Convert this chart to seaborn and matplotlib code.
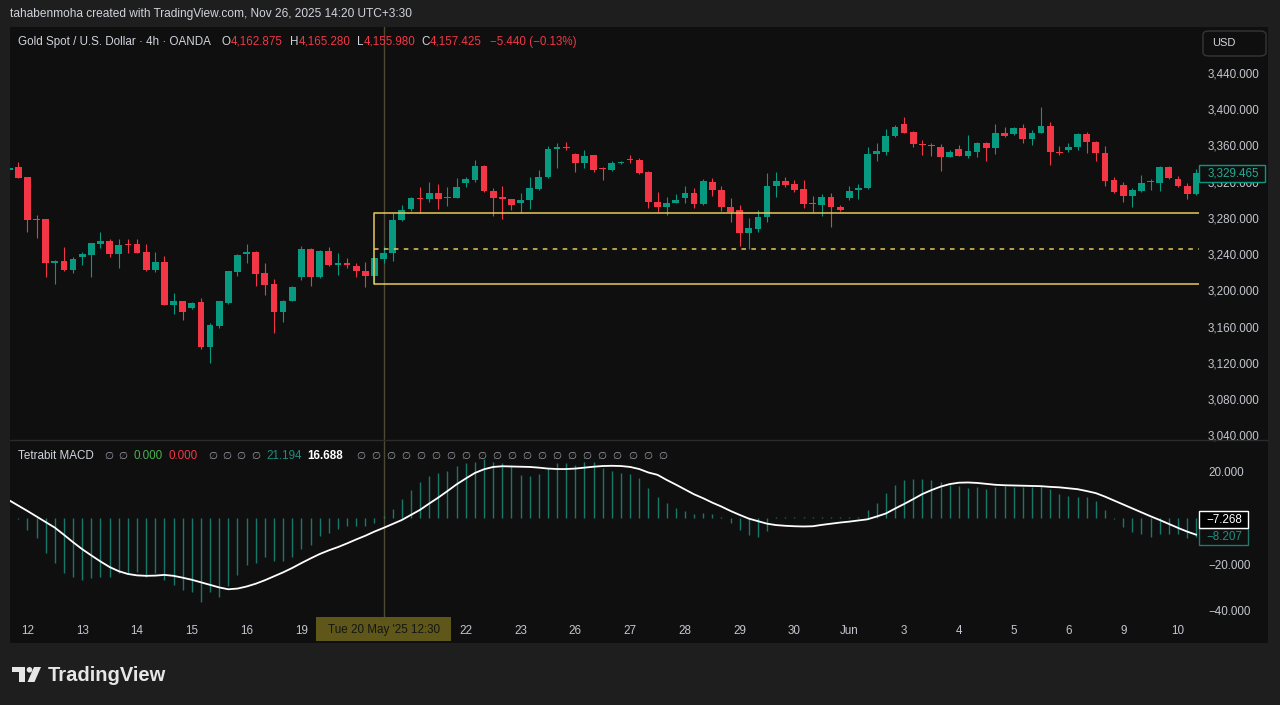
import matplotlib
matplotlib.use('Agg')
import matplotlib.pyplot as plt
import matplotlib.transforms as mtransforms
from matplotlib.patches import Rectangle, FancyBboxPatch, Polygon, Ellipse
import numpy as np
import pandas as pd
import seaborn as sns

# XAU/USD 4h candles, 12 May - 10 Jun 2025
opens = [3333, 3336, 3325, 3279, 3279, 3230.6, 3232.5, 3222.6, 3236.6, 3238.8,
         3251.3, 3254.9, 3240.2, 3251.3, 3251.3, 3242.8, 3222.6, 3231.4, 3184, 3188,
         3180.3, 3186.9, 3137.3, 3160.8, 3186.5, 3220.7, 3240.6, 3242.4, 3218.9, 3207.1,
         3175.9, 3188.4, 3214.5, 3245.8, 3214.5, 3243.9, 3228.4, 3230.6, 3227, 3221.5,
         3216, 3234.7, 3241.7, 3277.8, 3290.2, 3302, 3300.6, 3307.2, 3301.7, 3302,
         3318.3, 3321.9, 3337.7, 3309.8, 3302.8, 3300.6, 3296.2, 3299.8, 3312.3, 3324.9,
         3355.8, 3358.7, 3350.6, 3340.4, 3349.5, 3334.8, 3333, 3340.7, 3345.4, 3344,
         3330.4, 3297.3, 3292.4, 3296.9, 3302.4, 3307.2, 3295.1, 3320, 3310.9, 3292.4,
         3288.8, 3263.7, 3267.5, 3280.8, 3315.6, 3321.1, 3317, 3311.7, 3296, 3294,
         3302.8, 3292.4, 3301.7, 3310.5, 3312.8, 3350.6, 3353.2, 3370.5, 3383.4, 3374.6,
         3362, 3360.9, 3358.7, 3347.6, 3355.8, 3348.7, 3353.2, 3362.4, 3357.6, 3374.1,
         3372.7, 3379, 3366.8, 3374.1, 3381.9, 3353.2, 3355, 3358.7, 3372.4, 3364.2,
         3352.1, 3321.9, 3316.4, 3304.2, 3310.1, 3319.4, 3318.9, 3336.6, 3323, 3315.3,
         3306.1]
highs = [3337, 3341.5, 3325, 3283, 3279, 3233.6, 3247.6, 3237.3, 3242, 3252.7,
         3264.9, 3256.5, 3256.5, 3256.5, 3256.5, 3251, 3242.8, 3238, 3196.8, 3188.4,
         3187.2, 3191.3, 3164.4, 3188.4, 3222, 3239.7, 3251.3, 3243.5, 3230, 3212.3,
         3188.9, 3205.3, 3249.1, 3246.9, 3244.6, 3247.6, 3241, 3235.5, 3230, 3231.7,
         3236.9, 3249.1, 3285.2, 3294.3, 3303.2, 3313.9, 3320, 3317.2, 3313.9, 3323.8,
         3325.6, 3344, 3338.5, 3313.1, 3315.3, 3300.9, 3307.9, 3324.9, 3333, 3359.4,
         3363.1, 3364.2, 3351.2, 3355, 3350, 3336.3, 3342.9, 3342.9, 3349.2, 3346.5,
         3331.3, 3309, 3303.5, 3306.5, 3315.3, 3312.8, 3322.7, 3324.5, 3315.6, 3301.7,
         3294.3, 3279.6, 3288.8, 3330, 3330.4, 3324.9, 3321.9, 3321.9, 3304.2, 3306.1,
         3307.2, 3294.3, 3315.3, 3317.5, 3358, 3362.4, 3377.9, 3382.3, 3391.1, 3376.3,
         3366.1, 3362.4, 3361.7, 3355, 3360.5, 3371.6, 3363.5, 3364.2, 3383.7, 3380.8,
         3380.1, 3383.4, 3377.1, 3402.2, 3386.3, 3359.4, 3362.4, 3373.5, 3374.6, 3365,
         3359.8, 3325.6, 3320, 3312.8, 3327.4, 3322.7, 3337.7, 3337.7, 3326.3, 3319,
         3333.7]
lows = [3331, 3324, 3265, 3257.5, 3215, 3207, 3222, 3219.6, 3228, 3215.2,
        3246.5, 3236.6, 3225.1, 3241.7, 3241, 3222, 3220.7, 3183.4, 3174, 3167.4,
        3179.5, 3135, 3120.3, 3158.6, 3184.7, 3216, 3230.6, 3205.3, 3195, 3153.4,
        3165.5, 3187.8, 3211.5, 3205.3, 3213.7, 3227, 3217.1, 3224.4, 3214.5, 3204.1,
        3207.9, 3230, 3232.5, 3276.7, 3287.7, 3285.2, 3298, 3289.9, 3293.5, 3301.5,
        3314.5, 3320, 3309.2, 3282.5, 3278.5, 3288.8, 3285.8, 3289.9, 3311.4, 3324.1,
        3335.5, 3355, 3331, 3334.8, 3330.2, 3321.9, 3331.9, 3340.1, 3341, 3328.5,
        3291.3, 3286.9, 3283.3, 3296.2, 3296.9, 3291.3, 3294.3, 3304.2, 3288, 3275.9,
        3249.1, 3245.4, 3264.9, 3275.9, 3303.5, 3314.5, 3309, 3290.7, 3286.9, 3282.5,
        3270.4, 3287.7, 3299.8, 3300.6, 3312, 3343.2, 3349.5, 3369.7, 3373.5, 3358,
        3349.5, 3348.4, 3332.2, 3347, 3348.4, 3345.9, 3347.6, 3342.9, 3350.3, 3369.7,
        3371.6, 3363.1, 3360.5, 3373.8, 3338.5, 3349.5, 3353.2, 3355, 3351.4, 3342.9,
        3315.6, 3307.2, 3298, 3292.4, 3309, 3310.9, 3310.1, 3323, 3313.9, 3300.9,
        3305.3]
closes = [3335, 3324.5, 3278, 3277.5, 3230, 3232.5, 3222.6, 3234.4, 3239.9, 3252,
          3254.9, 3240.2, 3249.8, 3249.8, 3241.4, 3222.6, 3231.4, 3184, 3188, 3176.5,
          3186.5, 3137.3, 3161.9, 3188, 3221.5, 3239.1, 3242.4, 3218.2, 3206, 3175.9,
          3188.4, 3203.8, 3245.8, 3214.5, 3243.9, 3228.1, 3230.6, 3228.4, 3221.8, 3216,
          3235.5, 3241.7, 3277.8, 3288.5, 3302.4, 3300.6, 3307.2, 3300.9, 3302.8, 3313.9,
          3322.7, 3337.7, 3309.8, 3302.4, 3300.6, 3294, 3299.8, 3313.1, 3325.6, 3355.8,
          3358, 3357.2, 3341, 3348.4, 3333, 3333.7, 3341, 3342.1, 3344, 3329.3,
          3297.3, 3292.4, 3296.9, 3299.8, 3307.9, 3295.1, 3321.1, 3310.9, 3292.4, 3286.9,
          3263.1, 3268.6, 3281.4, 3315.6, 3321.1, 3316.4, 3310.9, 3295.1, 3294.9, 3302.8,
          3292, 3288.5, 3310.1, 3312.8, 3350.6, 3354.3, 3370.5, 3380.8, 3374.1, 3361.3,
          3360.5, 3359.4, 3347.6, 3353.2, 3348.7, 3353.9, 3362.4, 3357.6, 3374.1, 3370.8,
          3379, 3366.8, 3374.1, 3381.9, 3353.2, 3351.4, 3358.7, 3372.7, 3364.2, 3351.4,
          3321.1, 3308.3, 3304.6, 3310.9, 3318.3, 3320.8, 3336.6, 3323.8, 3315.3, 3306.1,
          3329.465]

# Tetrabit MACD pane
macd_line = [7.6, 5.3, 3.0, 0.6, -1.8, -4.2, -7.3, -10.5, -13.5, -16.2,
             -18.8, -21.2, -23.0, -24.2, -24.8, -25.0, -24.9, -24.6, -25.0, -25.8,
             -26.7, -27.8, -28.9, -30.0, -30.8, -30.5, -29.6, -28.4, -26.9, -25.2,
             -23.5, -21.6, -19.5, -17.5, -15.6, -14.0, -12.6, -11.0, -9.3, -7.7,
             -5.9, -4.3, -2.6, -0.9, 1.3, 3.5, 6.2, 8.8, 11.6, 14.5,
             17.0, 19.4, 21.0, 22.0, 22.3, 22.2, 22.1, 22.0, 21.7, 21.3,
             21.1, 21.1, 21.3, 21.7, 22.1, 22.4, 22.5, 22.4, 22.0, 21.1,
             19.6, 18.6, 16.4, 14.4, 12.3, 10.2, 8.5, 6.6, 4.9, 3.0,
             1.3, -0.3, -1.4, -2.5, -3.1, -3.4, -3.6, -3.7, -3.6, -3.0,
             -2.5, -2.0, -1.6, -1.1, -0.6, 0.6, 1.9, 4.0, 6.0, 8.1,
             10.3, 12.0, 13.5, 14.6, 15.2, 15.3, 15.1, 14.7, 14.3, 14.1,
             14.0, 13.9, 13.8, 13.7, 13.4, 13.2, 12.8, 12.4, 11.6, 10.7,
             9.2, 7.5, 5.8, 4.1, 2.4, 0.7, -0.9, -2.6, -4.3, -5.9,
             -7.268]
macd_hist = [0.0, -0.6, -5.2, -8.5, -15.0, -19.6, -23.6, -25.6, -26.8, -26.0,
             -25.3, -25.6, -23.9, -23.6, -23.2, -25.3, -23.9, -26.8, -28.9, -31.1,
             -31.8, -36.1, -31.8, -34.2, -29.6, -24.6, -20.3, -19.6, -16.7, -18.4,
             -18.8, -16.7, -13.5, -11.7, -7.8, -6.3, -4.9, -3.7, -3.5, -3.5,
             -2.3, 1.0, 3.9, 8.1, 12.1, 15.3, 18.1, 19.6, 20.3, 22.2,
             23.6, 24.3, 25.5, 24.3, 23.6, 22.9, 18.6, 18.1, 19.0, 21.4,
             23.6, 23.6, 22.9, 24.3, 24.3, 21.4, 20.4, 19.6, 19.0, 17.1,
             12.8, 9.2, 6.3, 4.2, 3.2, 1.7, 2.0, 1.7, 0.3, -2.3,
             -5.2, -7.3, -8.1, -5.6, 0.6, 0.3, 0.3, 0.3, 0.6, 0.3,
             0.3, 0.3, 0.6, 0.6, 3.5, 6.6, 10.6, 14.2, 16.4, 16.8,
             16.8, 16.4, 15.3, 14.2, 13.8, 13.1, 13.2, 12.4, 13.5, 13.8,
             13.5, 13.5, 13.5, 13.8, 12.4, 10.4, 9.5, 9.2, 8.9, 7.1,
             3.5, -0.6, -4.0, -5.9, -6.9, -8.1, -6.9, -6.9, -6.9, -8.8,
             -8.207]

day_labels = ['12', '13', '14', '15', '16', '19', '20', '21', '22', '23', '26',
              '27', '28', '29', '30', 'Jun', '3', '4', '5', '6', '9', '10']
bars_per_day = 6
first_day_bar = 2

price_ticks = list(range(3040, 3441, 40))
macd_ticks = [20, -20, -40]

# drawn zone (rectangle + mid line) and crosshair
zone_left = 39.95
zone_top = 3285.5
zone_bottom = 3207.0
crosshair_bar = 41
crosshair_label = "Tue 20 May '25 12:30"

sns.set_theme(style='dark')
plt.rcParams['font.family'] = ['Liberation Sans', 'DejaVu Sans']

W, H = 1280, 705
BG = '#0f0f0f'
FRAME = '#1e1e1e'
UP = '#089981'
DOWN = '#f23645'
TXT = '#d1d4dc'
AXTXT = '#c3c6ce'
ZONE = '#e8c95a'


def fx(px):
    return px / W


def fy(py):
    return 1 - py / H


df = pd.DataFrame({'open': opens, 'high': highs, 'low': lows, 'close': closes})
df['bar'] = np.arange(len(df))
df['color'] = np.where(df['close'] >= df['open'], UP, DOWN)
body = (df['close'] - df['open']).abs().clip(lower=1.0)
mid = (df['close'] + df['open']) / 2

ind = pd.DataFrame({'bar': np.arange(len(macd_line)), 'macd': macd_line, 'hist': macd_hist})

fig = plt.figure(figsize=(W / 100, H / 100), dpi=100, facecolor=FRAME)
fig.patches.append(Rectangle((fx(10), fy(643)), fx(1268) - fx(10), (643 - 27) / H,
                             transform=fig.transFigure, fc=BG, ec='none', zorder=-3))

ax = fig.add_axes([fx(10), fy(440), fx(1199) - fx(10), (440 - 27) / H])
axm = fig.add_axes([fx(10), fy(618), fx(1199) - fx(10), (618 - 441) / H])

for a in (ax, axm):
    a.set_facecolor(BG)
    a.grid(False)
    for s in a.spines.values():
        s.set_visible(False)
    a.set_xlim(0.09, 130.3)

# candles
ax.vlines(df['bar'], df['low'], df['high'], colors=df['color'], lw=0.8, zorder=3)
ax.bar(df['bar'], body, bottom=mid - body / 2, width=0.74, color=df['color'], lw=0, zorder=4)

# zone drawing
ax.plot([zone_left, zone_left], [zone_bottom, zone_top], color=ZONE, lw=1.1, zorder=5)
ax.hlines([zone_top, zone_bottom], zone_left, 140, color=ZONE, lw=1.1, zorder=5)
ax.hlines((zone_top + zone_bottom) / 2, zone_left, 140, color=ZONE, lw=1.1,
          linestyles=(0, (3, 3.5)), zorder=5)

ax.set_ylim(3034.9, 3490.8)
ax.yaxis.tick_right()
ax.set_yticks(price_ticks)
ax.set_yticklabels([f'{v:,.3f}' for v in price_ticks])
ax.tick_params(axis='y', length=0, pad=6.5, labelcolor=AXTXT, labelsize=8.4)
ax.tick_params(axis='x', length=0, labelbottom=False)

# MACD pane
axm.vlines(ind['bar'], 0, ind['hist'], colors='#178b7c', lw=1.0, alpha=0.85, zorder=2)
sns.lineplot(data=ind, x='bar', y='macd', ax=axm, color='white', lw=1.3, zorder=3)
axm.set_ylim(-43.2, 33.2)
axm.set_xlabel('')
axm.set_ylabel('')
axm.yaxis.tick_right()
axm.set_yticks(macd_ticks)
axm.set_yticklabels([f'{v:.3f}'.replace('-', '\u2212') for v in macd_ticks])
axm.tick_params(axis='y', length=0, pad=6.5, labelcolor=AXTXT, labelsize=8.4)
day_pos = [first_day_bar + bars_per_day * k for k in range(len(day_labels))]
axm.set_xticks(day_pos)
axm.set_xticklabels(day_labels)
axm.tick_params(axis='x', length=0, pad=5, labelcolor=AXTXT, labelsize=8.4)
# day labels sitting under the crosshair date box are covered by it
for pos, lab in zip(day_pos, axm.get_xticklabels()):
    if abs(pos - crosshair_bar) < 4:
        lab.set_visible(False)

# crosshair
for a in (ax, axm):
    a.axvline(crosshair_bar, color='#4d4a33', lw=1, zorder=1)

# separators
fig.add_artist(plt.Line2D([fx(10), fx(1268)], [fy(440.5), fy(440.5)], color='#2b2b2b', lw=1))

# header and legends
fig.text(fx(10), fy(14), 'tahabenmoha created with TradingView.com, Nov 26, 2025 14:20 UTC+3:30',
         color=TXT, fontsize=8.6, va='center', ha='left')
legend_parts = [(18.4, 'Gold Spot / U.S. Dollar \u00b7 4h \u00b7 OANDA', TXT),
                (221.6, 'O', TXT), (231, '4,162.875', DOWN),
                (289.8, 'H', TXT), (298.5, '4,165.280', DOWN),
                (357, 'L', TXT), (363.5, '4,155.980', DOWN),
                (421, 'C', TXT), (430, '4,157.425', DOWN),
                (490, '\u22125.440 (\u22120.13%)', DOWN)]
for x, s, c in legend_parts:
    fig.text(fx(x), fy(42), s, color=c, fontsize=8.4, va='center', ha='left')

macd_parts = [(17.9, 'Tetrabit MACD', TXT, 'normal'),
              (133, '0.000', '#4caf50', 'normal'), (168.8, '0.000', DOWN, 'normal'),
              (266.5, '21.194', '#1e8c7e', 'normal'), (307, '16.688', '#ffffff', 'bold')]
for x, s, c, w in macd_parts:
    fig.text(fx(x), fy(456), s, color=c, fontsize=8.4, va='center', ha='left', fontweight=w)
null_x = [104.5, 118.5, 208, 222, 236, 251] + [356 + 15.1 * k for k in range(21)]
for x in null_x:
    fig.text(fx(x), fy(456), '\u2205', color='#9a9da5', fontsize=7.5, va='center', ha='left',
             family=['DejaVu Sans'])

# USD box
fig.patches.append(FancyBboxPatch((fx(1203), fy(56)), fx(1266) - fx(1203), 25 / H,
                                  boxstyle='round,pad=0,rounding_size=0.005',
                                  transform=fig.transFigure, fc=BG, ec='#363636', lw=1))
fig.text(fx(1212), fy(43.5), 'USD', color=TXT, fontsize=8, va='center', ha='left')

# last-value labels on the scales
tp = mtransforms.blended_transform_factory(fig.transFigure, ax.transData)
tm = mtransforms.blended_transform_factory(fig.transFigure, axm.transData)
ppx = (3490.8 - 3034.9) / 413
mpx = (33.2 + 43.2) / 177
last_close = closes[-1]
ax.add_patch(Rectangle((fx(1199), last_close - 8.5 * ppx), fx(1265) - fx(1199), 17 * ppx,
                       transform=tp, fc=BG, ec=UP, lw=1, clip_on=False, zorder=6))
ax.text(fx(1207.5), last_close, f'{last_close:,.3f}', transform=tp, color='#22ab94',
        fontsize=8.4, va='center', ha='left', clip_on=False, zorder=7)
h_last = macd_hist[-1]
m_pos = h_last + 17 * mpx
axm.add_patch(Rectangle((fx(1199), h_last - 8.5 * mpx), fx(1248) - fx(1199), 17 * mpx,
                        transform=tm, fc=BG, ec='#1e7a6e', lw=1, clip_on=False, zorder=6))
axm.text(fx(1206), h_last, f'{h_last:.3f}'.replace('-', '\u2212'), transform=tm, color='#1f8f80',
         fontsize=8.4, va='center', ha='left', clip_on=False, zorder=7)
axm.add_patch(Rectangle((fx(1199), m_pos - 8.5 * mpx), fx(1248) - fx(1199), 17 * mpx,
                        transform=tm, fc='#000000', ec='#ffffff', lw=1, clip_on=False, zorder=6))
axm.text(fx(1206), m_pos, f'{macd_line[-1]:.3f}'.replace('-', '\u2212'), transform=tm,
         color='#ffffff', fontsize=8.4, va='center', ha='left', clip_on=False, zorder=7)

# crosshair time label
fig.patches.append(Rectangle((fx(316), fy(641)), fx(451) - fx(316), 24 / H,
                             transform=fig.transFigure, fc='#5e5719', ec='none', zorder=5))
fig.text(fx(383.7), fy(629.5), crosshair_label, color='#151515', fontsize=8.4,
         va='center', ha='center', zorder=6)

# footer logo
logo = '#e6e6e6'
fig.patches.append(Rectangle((fx(12), fy(672)), fx(25) - fx(12), 5 / H,
                             transform=fig.transFigure, fc=logo, ec='none'))
fig.patches.append(Rectangle((fx(19), fy(682)), fx(25) - fx(19), 15 / H,
                             transform=fig.transFigure, fc=logo, ec='none'))
fig.patches.append(Ellipse((fx(29.5), fy(669.8)), 5.6 / W, 5.6 / H,
                           transform=fig.transFigure, fc=logo, ec='none'))
fig.patches.append(Polygon([(fx(34), fy(667)), (fx(41), fy(667)), (fx(34.5), fy(682)),
                            (fx(27.5), fy(682))], closed=True,
                           transform=fig.transFigure, fc=logo, ec='none'))
fig.text(fx(48), fy(675.5), 'TradingView', color=logo, fontsize=14.5, fontweight='bold',
         va='center', ha='left')

fig.savefig('out.png', dpi=100, facecolor=FRAME)
